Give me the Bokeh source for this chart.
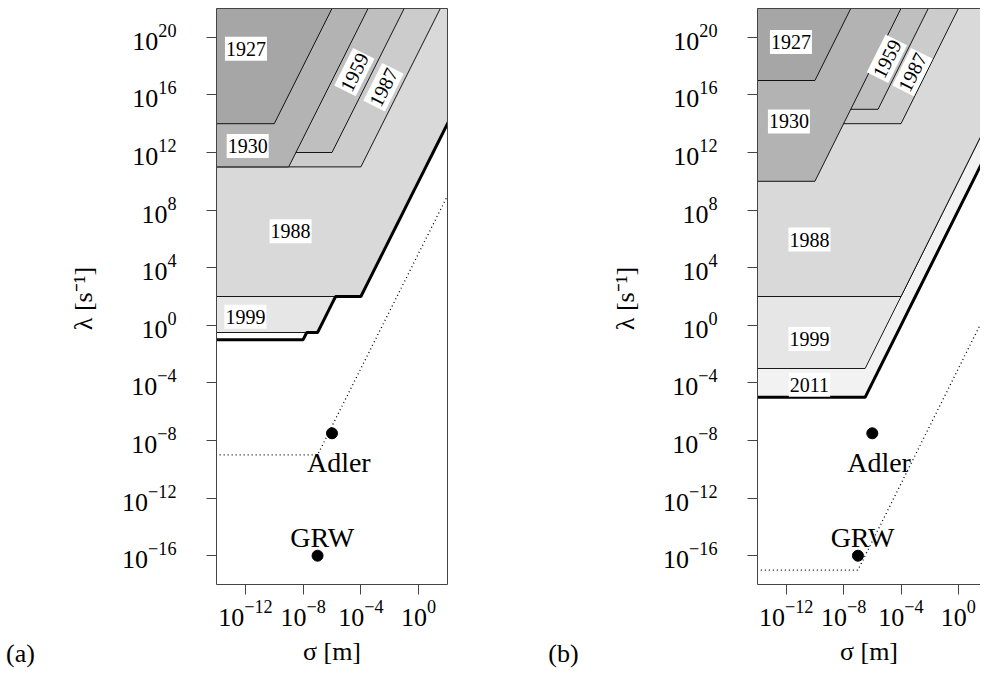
import numpy as np
from bokeh.plotting import figure
from bokeh.models import Range1d, LogAxis, FixedTicker, Label
from bokeh.layouts import row
from bokeh.core.properties import value
from bokeh.embed import file_html
from bokeh.resources import INLINE

# ---------------- data (log10 values) ----------------
# each bound: horizontal at lambda = 10**lam_exp up to sigma = 10**sig_exp, then lambda ~ sigma^2
a_years = ["1927", "1930", "1959", "1987", "1988", "1999", ""]
a_lam_exp = [14, 11, 12, 11, 2, -0.5, -1]
a_sig_exp = [-10, -9, -6, -4, -4, -7, -8]
a_dotted = (-9, -7)          # (lam_exp, sig_exp) of dotted bound
a_adler = (-6, -7.5)         # (sig_exp, lam_exp)
a_grw = (-7, -16)

b_years = ["1927", "1930", "1959", "1987", "1988", "1999", "2011"]
b_lam_exp = [17, 10, 15, 14, 2, -3, -5]
b_sig_exp = [-10, -10, -5.6, -4, -4, -6.5, -6.5]
b_dotted = (-17, -7)
b_adler = (-6, -7.5)
b_grw = (-7, -16)

x_tick_exp = [-12, -8, -4, 0]
y_tick_exp = [-16, -12, -8, -4, 0, 4, 8, 12, 16, 20]

# ---------------- styles / positions ----------------
a_colors = ["#a6a6a6", "#b3b3b3", "#bfbfbf", "#cccccc", "#d9d9d9", "#e6e6e6", "#ffffff"]
b_colors = ["#a6a6a6", "#b3b3b3", "#bfbfbf", "#cccccc", "#d9d9d9", "#e6e6e6", "#f2f2f2"]
ANG = float(np.arctan(2.0))
a_label_pos = {"1927": (-11.96, 19.2, 0), "1930": (-11.84, 12.46, 0), "1959": (-4.45, 17.58, ANG),
               "1987": (-2.43, 16.53, ANG), "1988": (-8.87, 6.53, 0), "1999": (-12.0, 0.6, 0)}
b_label_pos = {"1927": (-11.67, 19.67, 0), "1930": (-11.81, 14.16, 0), "1959": (-4.98, 18.51, ANG),
               "1987": (-3.2, 17.58, ANG), "1988": (-10.38, 5.95, 0), "1999": (-10.38, -0.96, 0),
               "2011": (-10.38, -4.13, 0)}

XLO, YTOP = -16.0, 24.0
SERIF = "Liberation Serif"
H = 680
FRAME_TOP, FRAME_H = 8, 576
TAG_Y, LAM_Y = 653, 298


def bound_poly(lam, sig):
    xs = [XLO, XLO, sig, sig + (YTOP - lam) / 2.0]
    ys = [YTOP, lam, lam, YTOP]
    return [10.0 ** v for v in xs], [10.0 ** v for v in ys]


def bound_line(lam, sig):
    xs = [XLO, sig, sig + (YTOP - lam) / 2.0]
    ys = [lam, lam, YTOP]
    return [10.0 ** v for v in xs], [10.0 ** v for v in ys]


def envelope(lams, sigs, x0, x1):
    cand = {x0, x1}
    for bi, ci in zip(lams, sigs):
        cand.add(ci)
        for bj in lams:
            cand.add(ci + (bj - bi) / 2.0)
    xs = sorted(v for v in cand if x0 <= v <= x1)
    ys = [min(bi if x <= ci else bi + 2.0 * (x - ci) for bi, ci in zip(lams, sigs)) for x in xs]
    return [10.0 ** v for v in xs], [10.0 ** v for v in ys]


def make_panel(years, lams, sigs, colors, label_pos, dotted, adler, grw,
               width, border_left, border_right, x_end_exp, right_axis):
    p = figure(width=width, height=H, x_axis_type="log", y_axis_type="log",
               x_range=Range1d(1e-14, 10.0 ** x_end_exp), y_range=Range1d(1e-18, 1e22),
               output_backend="svg", toolbar_location=None,
               min_border_left=border_left, min_border_right=border_right,
               min_border_top=FRAME_TOP, min_border_bottom=H - FRAME_TOP - FRAME_H)
    p.outline_line_color = None
    p.xgrid.visible = False
    p.ygrid.visible = False
    p.background_fill_color = "white"
    p.border_fill_color = "white"

    order = list(range(len(years)))[::-1]
    pxs, pys, fills = [], [], []
    for i in order:
        xs, ys = bound_poly(lams[i], sigs[i])
        pxs.append(xs)
        pys.append(ys)
        fills.append(colors[i])
    p.patches(pxs, pys, fill_color=fills, line_color="black", line_width=0.9)

    ex, ey = envelope(lams, sigs, XLO, 4.0)
    p.line(ex, ey, line_color="black", line_width=3)

    dx, dy = bound_line(dotted[0], dotted[1])
    p.line(dx, dy, line_color="black", line_width=1.3, line_dash="1 3")

    p.scatter([10.0 ** adler[0], 10.0 ** grw[0]], [10.0 ** adler[1], 10.0 ** grw[1]],
              size=11, color="black")

    for yr in years:
        if yr == "":
            continue
        x, y, ang = label_pos[yr]
        p.add_layout(Label(x=10.0 ** x, y=10.0 ** y, text=yr, angle=ang, angle_units="rad",
                           text_align="center", text_baseline="middle",
                           text_font=SERIF, text_font_size="20px", text_color="black",
                           background_fill_color="white", padding=(1, 5)))

    p.add_layout(Label(x=10.0 ** -5.53, y=10.0 ** -9.52, text="Adler", text_align="center",
                       text_baseline="middle", text_font=SERIF, text_font_size="28px",
                       text_color="black"))
    p.add_layout(Label(x=10.0 ** -6.68, y=10.0 ** -14.75, text="GRW", text_align="center",
                       text_baseline="middle", text_font=SERIF, text_font_size="28px",
                       text_color="black"))

    for ax in (p.xaxis[0], p.yaxis[0]):
        ax.major_label_text_font = SERIF
        ax.major_label_text_font_size = "26px"
        ax.major_label_text_color = "black"
        ax.axis_line_color = "#444444"
        ax.major_tick_line_color = "#444444"
        ax.major_tick_in = 0
        ax.major_tick_out = 10
        ax.minor_tick_line_color = None
    p.xaxis[0].ticker = FixedTicker(ticks=[10.0 ** e for e in x_tick_exp], minor_ticks=[])
    p.yaxis[0].ticker = FixedTicker(ticks=[10.0 ** e for e in y_tick_exp], minor_ticks=[])
    p.xaxis[0].major_label_standoff = 6
    p.yaxis[0].major_label_standoff = 30
    p.xaxis[0].axis_label = "σ [m]"
    p.xaxis[0].axis_label_text_font = SERIF
    p.xaxis[0].axis_label_text_font_size = "26px"
    p.xaxis[0].axis_label_text_font_style = "normal"
    p.xaxis[0].axis_label_text_color = "black"
    p.xaxis[0].axis_label_standoff = 8

    sides = ["above"] + (["right"] if right_axis else [])
    for side in sides:
        ax = LogAxis(ticker=FixedTicker(ticks=[], minor_ticks=[]), major_tick_out=0,
                     major_tick_in=0, minor_tick_out=0, minor_tick_in=0,
                     major_label_standoff=0, axis_line_color="#444444",
                     major_label_text_font_size="0px")
        p.add_layout(ax, side)
    return p


def make_tag(width, tag, tag_x, lam_x):
    t = figure(width=width, height=H, x_range=Range1d(0, width), y_range=Range1d(H, 0),
               output_backend="svg", toolbar_location=None,
               x_axis_location=None, y_axis_location=None, min_border=0,
               frame_align=False)
    t.outline_line_color = None
    t.xgrid.visible = False
    t.ygrid.visible = False
    t.text(x=[tag_x], y=[TAG_Y], text=[tag], text_font=value(SERIF),
           text_font_size=value("26px"), text_align="center", text_baseline="middle",
           text_color="black")
    t.text(x=[lam_x], y=[LAM_Y], text=["λ [s⁻¹]"], angle=np.pi / 2, text_font=value(SERIF),
           text_font_size=value("26px"), text_align="center", text_baseline="middle",
           text_color="black")
    return t


TAGA_W, PA_W, TAGB_W, PB_W = 110, 420, 120, 330
tag_a = make_tag(TAGA_W, "(a)", 20, 83)
pa = make_panel(a_years, a_lam_exp, a_sig_exp, a_colors, a_label_pos, a_dotted, a_adler, a_grw,
                width=PA_W, border_left=216 - TAGA_W, border_right=TAGA_W + PA_W - 447,
                x_end_exp=2.0, right_axis=True)
b_left = TAGA_W + PA_W + TAGB_W
tag_b = make_tag(TAGB_W, "(b)", 563 - (TAGA_W + PA_W), 625 - (TAGA_W + PA_W))
pb = make_panel(b_years, b_lam_exp, b_sig_exp, b_colors, b_label_pos, b_dotted, b_adler, b_grw,
                width=PB_W, border_left=757 - b_left, border_right=0,
                x_end_exp=-14 + (PB_W - (757 - b_left)) / 14.35, right_axis=False)

layout = row(tag_a, pa, tag_b, pb)
open("out.html", "w").write(file_html(layout, INLINE))
